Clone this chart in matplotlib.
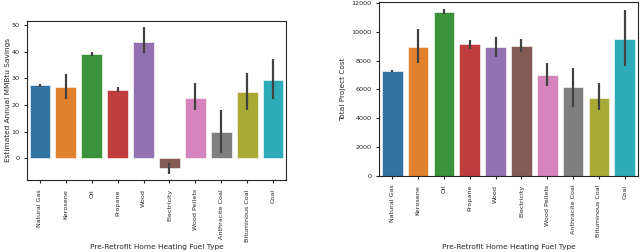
import matplotlib
matplotlib.use("Agg")
import matplotlib.pyplot as plt
import numpy as np

fuels = ["Natural Gas", "Kerosene", "Oil", "Propane", "Wood", "Electricity",
         "Wood Pellets", "Anthracite Coal", "Bituminous Coal", "Coal"]
colors = ["#3274a1", "#e1812c", "#3a923a", "#c03d3e", "#9372b2", "#845b53",
          "#d684bd", "#7f7f7f", "#a9aa35", "#2eabb8"]

savings = [27.3, 26.8, 39.0, 25.7, 43.7, -3.8, 22.7, 9.7, 24.7, 29.4]
savings_lo = [26.8, 22.3, 38.5, 24.7, 39.4, -5.8, 17.9, 2.1, 17.9, 22.3]
savings_hi = [27.8, 31.6, 39.8, 26.8, 49.4, -2.0, 28.1, 18.1, 31.8, 37.3]

cost = [7290, 8950, 11410, 9150, 8950, 9020, 6990, 6160, 5440, 9500]
cost_lo = [7220, 7820, 11250, 8840, 8280, 8610, 6240, 4800, 4570, 7630]
cost_hi = [7350, 10190, 11620, 9440, 9630, 9490, 7860, 7520, 6430, 11510]

plt.rcParams.update({
    "font.family": "DejaVu Sans",
    "font.size": 4.6,
    "axes.edgecolor": "#262626",
    "axes.linewidth": 0.8,
    "xtick.color": "#262626",
    "ytick.color": "#262626",
    "text.color": "#262626",
    "axes.labelcolor": "#262626",
    "xtick.major.size": 2.5,
    "ytick.major.size": 2.5,
    "xtick.major.width": 0.8,
    "ytick.major.width": 0.8,
    "xtick.major.pad": 4,
    "ytick.major.pad": 3,
})

fig = plt.figure(figsize=(6.4, 2.52), dpi=100)
ax1 = fig.add_axes([27/640, 1-180/252, 259/640, 159.3/252])
ax2 = fig.add_axes([379.3/640, 1-175.7/252, 258.4/640, 173.7/252])

x = np.arange(len(fuels))

def draw(ax, vals, lo, hi):
    ax.bar(x, vals, width=0.8, color=colors, edgecolor="white", linewidth=0.4)
    for xi, l, h in zip(x, lo, hi):
        ax.plot([xi, xi], [l, h], color="#424242", lw=1.6, solid_capstyle="butt")
    ax.set_xlim(-0.5, len(fuels) - 0.5)
    ax.set_xticks(x)
    ax.set_xticklabels(fuels, rotation=90)
    ax.set_xlabel("Pre-Retrofit Home Heating Fuel Type", fontsize=5.35)

draw(ax1, savings, savings_lo, savings_hi)
ax1.set_ylim(-8.2, 51.6)
ax1.set_yticks([0, 10, 20, 30, 40, 50])
ax1.set_ylabel("Estimated Annual MMBtu Savings", fontsize=5.35)
ax1.xaxis.set_label_coords(0.5, (180 - 246.5) / 159.3, transform=ax1.transAxes)
ax1.yaxis.set_label_coords((8 - 27) / 259, 0.5, transform=ax1.transAxes)
ax1.xaxis.label.set_va("center")
ax1.yaxis.label.set_va("center")

draw(ax2, cost, cost_lo, cost_hi)
ax2.set_ylim(0, 12090)
ax2.set_yticks([0, 2000, 4000, 6000, 8000, 10000, 12000])
ax2.set_ylabel("Total Project Cost", fontsize=5.35)
ax2.xaxis.set_label_coords(0.5, (175.7 - 246.5) / 173.7, transform=ax2.transAxes)
ax2.yaxis.set_label_coords((342.7 - 379.3) / 258.4, 0.5, transform=ax2.transAxes)
ax2.xaxis.label.set_va("center")
ax2.yaxis.label.set_va("center")

fig.savefig("out.png", dpi=100)
